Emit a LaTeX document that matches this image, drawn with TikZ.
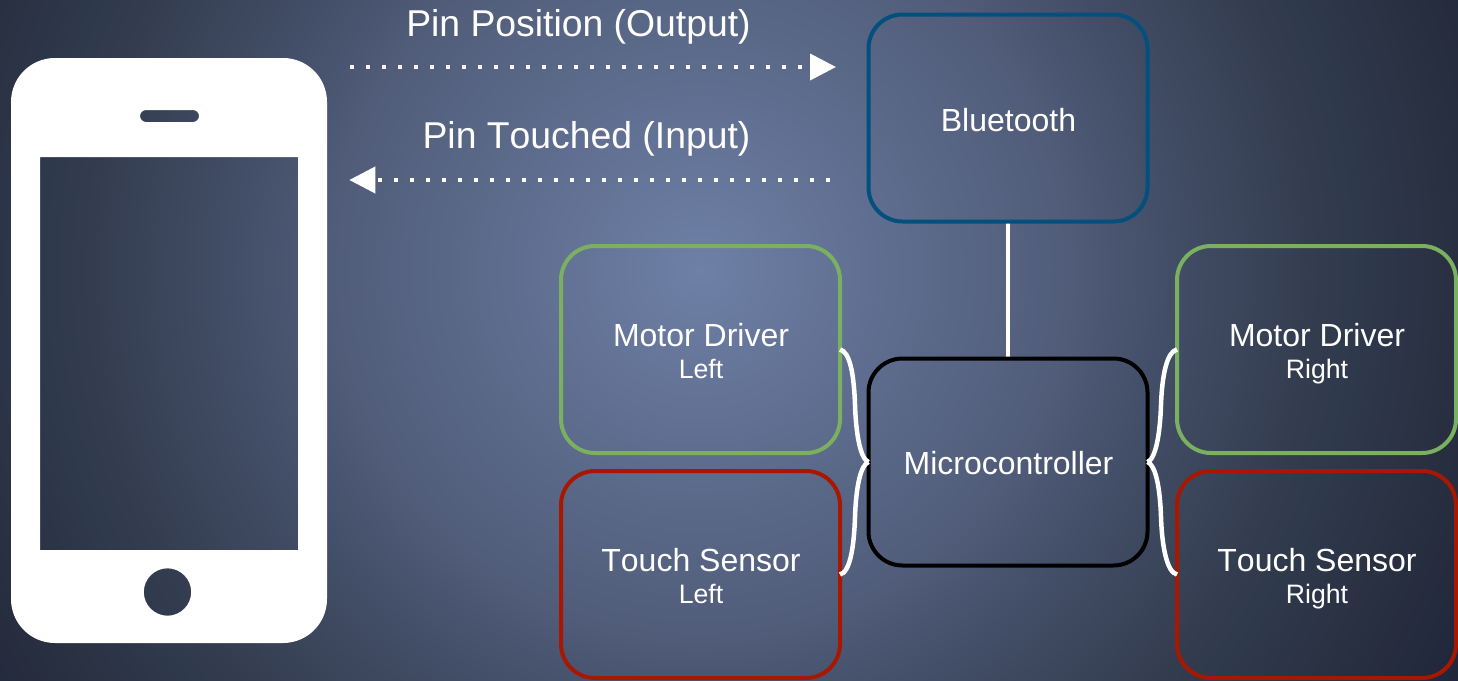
\documentclass[tikz,border=0pt]{standalone}
\usepackage{fontspec}
\setmainfont[Kerning=Off]{Liberation Sans}
\usetikzlibrary{arrows.meta,backgrounds}
\definecolor{bga}{HTML}{6E80A6}
\definecolor{bgb}{HTML}{5F6E90}
\definecolor{bgc}{HTML}{505C78}
\definecolor{bgd}{HTML}{434F68}
\definecolor{bge}{HTML}{343D50}
\definecolor{bgf}{HTML}{2F394C}
\definecolor{bgg}{HTML}{282F40}
\definecolor{bgh}{HTML}{20263A}
\definecolor{cblue}{HTML}{03507F}
\definecolor{cgreen}{HTML}{7AB060}
\definecolor{cred}{HTML}{A81800}
\pgfdeclareradialshading{bgshade}{\pgfpoint{0bp}{0bp}}{color(0bp)=(bga); color(5.17bp)=(bgb); color(10.63bp)=(bgc); color(13.25bp)=(bgd); color(17.47bp)=(bge); color(18.97bp)=(bgf); color(21.75bp)=(bgg); color(25bp)=(bgh); color(50bp)=(bgh)}
\tikzset{
  x=1pt,y=-1pt,
  blockbox/.style={draw=#1,rectangle,rounded corners=34pt,line width=4pt,minimum width=279pt,minimum height=207pt,inner sep=0pt,outer sep=0pt,text=white,align=center,font=\fontsize{32}{32}\selectfont},
  wire/.style={draw=white,line width=4.5pt},
  dotwire/.style={draw=white,line width=4pt,dash pattern=on 4pt off 12pt,-{Triangle[length=26pt,width=26pt]}},
  pinlabel/.style={text=white,inner sep=0pt,font=\fontsize{37.33}{40}\selectfont},
}
% main line with a top strut that moves the block down, sub line with fixed depth
\newcommand{\mainline}[2]{\hspace*{1pt}\rule{0pt}{#1}#2}
\newcommand{\sublabel}[1]{\\[0pt]\hspace*{1pt}{\fontsize{26.67}{32}\selectfont #1\vphantom{g}}}
\begin{document}
\begin{tikzpicture}
\useasboundingbox (0,0) rectangle (1458,680);
% boxes
\node[blockbox=cblue] (bt) at (1008,118) {\mainline{28pt}{Bluetooth}};
\node[blockbox=black] (mc) at (1008,462) {\mainline{25pt}{Microcontroller}};
\node[blockbox=cgreen] (ml) at (700.5,349.5) {\mainline{31pt}{Motor Driver}\sublabel{Left}};
\node[blockbox=cred] (tl) at (700.5,574.5) {\mainline{31pt}{Touch Sensor}\sublabel{Left}};
\node[blockbox=cgreen] (mr) at (1316.5,349.5) {\mainline{31pt}{Motor Driver}\sublabel{Right}};
\node[blockbox=cred] (tr) at (1316.5,574.5) {\mainline{31pt}{Touch Sensor}\sublabel{Right}};
\begin{pgfonlayer}{background}
\begin{scope}
\clip (0,0) rectangle (1458,680);
\shade[shading=bgshade] (700,270) circle[radius=870pt];
\end{scope}
\draw[wire] (bt.south) -- (mc.north);
\end{pgfonlayer}
% phone
\fill[white,even odd rule,rounded corners=44pt] (11,58) rectangle (327,643)
  [sharp corners] (40,157) rectangle (298,550)
  [rounded corners=6pt] (140,110) rectangle (199,122)
  [sharp corners] (167.5,592) circle[radius=23.7pt];
% labels
\node[pinlabel,anchor=base] (pp) at (578.5,36) {Pin Position (Output)};
\node[pinlabel,anchor=base] (pt) at (586.5,148) {Pin Touched (Input)};
% free ends
\coordinate (a1) at (350.3,67);
\coordinate (a2) at (836,67);
\coordinate (b1) at (830,180);
\coordinate (b2) at (349.3,180);
\coordinate (lu) at (855,405);
\coordinate (ll) at (855,517);
\coordinate (ru) at (1161,405);
\coordinate (rl) at (1161,517);
% connectors
\draw[dotwire] (a1) -- (a2);
\draw[dotwire] (b1) -- (b2);
\draw[wire] (ml.east) .. controls +(10,2) and +(-1,-30) .. (lu) .. controls +(1,30) and +(-8,-3) .. (mc.west);
\draw[wire] (tl.east) .. controls +(10,-2) and +(-1,30) .. (ll) .. controls +(1,-30) and +(-8,3) .. (mc.west);
\draw[wire] (mr.west) .. controls +(-10,2) and +(1,-30) .. (ru) .. controls +(-1,30) and +(8,-3) .. (mc.east);
\draw[wire] (tr.west) .. controls +(-10,-2) and +(1,30) .. (rl) .. controls +(-1,-30) and +(8,3) .. (mc.east);
\end{tikzpicture}
\end{document}
